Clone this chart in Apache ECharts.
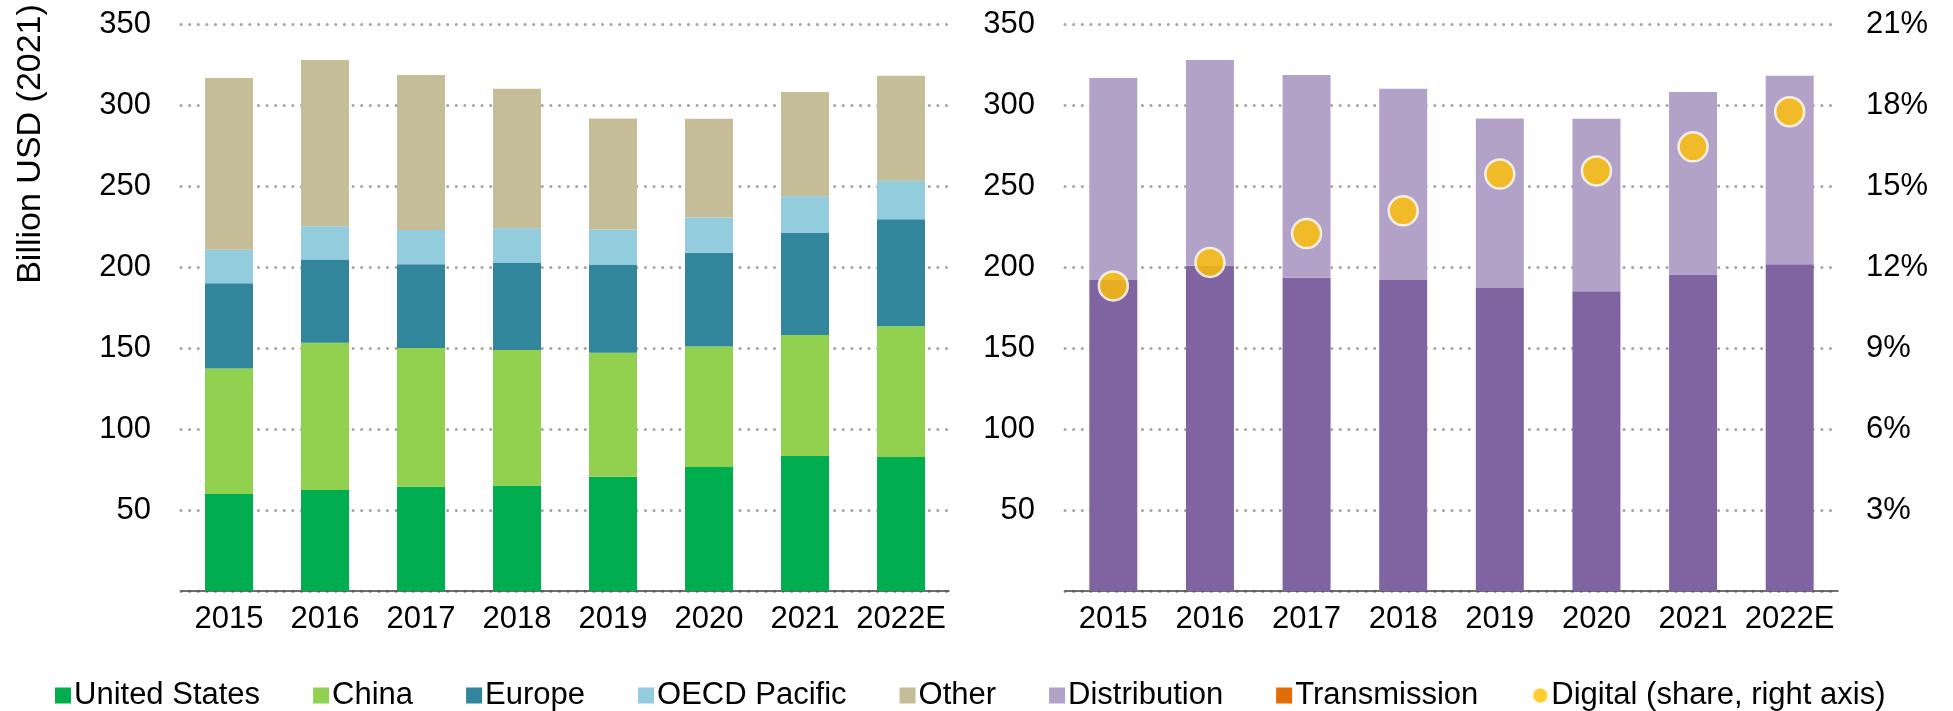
<!DOCTYPE html>
<html>
<head>
<meta charset="utf-8">
<script src="https://cdn.jsdelivr.net/npm/echarts@6/dist/echarts.min.js"></script>
<style>
  html, body { margin: 0; padding: 0; background: #fff; }
  #chart { width: 1953px; height: 711px; }
</style>
</head>
<body>
<div id="chart"></div>
<script>
const years = ["2015", "2016", "2017", "2018", "2019", "2020", "2021", "2022E"];
// left chart, billion USD (2021)
const unitedStates = [59.8, 62.4, 64.4, 65.1, 70.5, 76.6, 83.4, 82.7];
const china = [77.5, 90.8, 85.6, 83.7, 76.6, 74.4, 74.6, 80.7];
const europe = [52.7, 51.4, 51.7, 53.6, 54.4, 57.8, 63.0, 66.1];
const oecdPacific = [20.7, 20.5, 21.2, 21.5, 21.7, 21.7, 22.7, 23.7];
const other = [105.9, 102.7, 95.6, 86.1, 68.5, 61.0, 64.3, 64.8];
// right chart
const lowerPart = [192.0, 200.7, 193.4, 192.0, 187.0, 185.1, 195.4, 201.7];
const distribution = [124.6, 127.1, 125.1, 118.0, 104.7, 106.4, 112.6, 116.3];
const digitalShare = [0.113, 0.1217, 0.1324, 0.1408, 0.1544, 0.1556, 0.1645, 0.1775];
const leftTicks = [0, 350, 50];
const shareTicks = [0, 0.21, 0.03];

const font = "Liberation Sans, Arial, sans-serif";
const fs = 31;

let myChart = echarts.init(document.getElementById("chart"));

const gridLine = {
  show: true,
  lineStyle: { color: "#a6a6a6", width: 3, type: [0.1, 8.5], cap: "round" }
};

function catAxis(gridIndex) {
  return {
    type: "category",
    gridIndex: gridIndex,
    data: years,
    axisLine: { lineStyle: { color: "#404040", width: 1.5 } },
    axisTick: { show: false },
    axisLabel: { color: "#000", fontSize: fs, fontFamily: font, margin: 13, interval: 0 }
  };
}

function valAxis(gridIndex) {
  return {
    type: "value",
    gridIndex: gridIndex,
    min: leftTicks[0],
    max: leftTicks[1],
    interval: leftTicks[2],
    axisLine: { show: false },
    axisTick: { show: false },
    splitLine: gridLine,
    axisLabel: {
      color: "#000", fontSize: fs, fontFamily: font, margin: 30,
      formatter: v => (v === 0 ? "" : v)
    }
  };
}

function stackBar(name, data, color, stack, xi, yi) {
  return {
    name: name,
    type: "bar",
    stack: stack,
    xAxisIndex: xi,
    yAxisIndex: yi,
    barWidth: 48,
    data: data,
    itemStyle: { color: color },
    emphasis: { disabled: true }
  };
}

myChart.setOption({
  animation: false,
  textStyle: { fontFamily: font },
  grid: [
    { left: 181, width: 768, top: 24, height: 567 },
    { left: 1065, width: 773, top: 24, height: 567 }
  ],
  graphic: [
    {
      type: "text",
      x: 31,
      y: 144,
      rotation: Math.PI / 2,
      style: {
        text: "Billion USD (2021)",
        fontSize: 34,
        fontFamily: font,
        fill: "#000",
        align: "center",
        verticalAlign: "middle"
      }
    }
  ],
  legend: {
    top: 675,
    left: 50,
    itemWidth: 16,
    itemHeight: 16,
    itemGap: 53,
    textStyle: { fontSize: fs, fontFamily: font, color: "#000", padding: [0, 0, 0, -2] },
    data: [
      { name: "United States", icon: "rect" },
      { name: "China", icon: "rect" },
      { name: "Europe", icon: "rect" },
      { name: "OECD Pacific", icon: "rect" },
      { name: "Other", icon: "rect" },
      { name: "Distribution", icon: "rect" },
      { name: "Transmission", icon: "rect", itemStyle: { color: "#e36c09" } },
      { name: "Digital (share, right axis)", icon: "circle" }
    ]
  },
  xAxis: [catAxis(0), catAxis(1)],
  yAxis: [
    valAxis(0),
    valAxis(1),
    {
      type: "value",
      gridIndex: 1,
      position: "right",
      min: shareTicks[0],
      max: shareTicks[1],
      interval: shareTicks[2],
      axisLine: { show: false },
      axisTick: { show: false },
      splitLine: { show: false },
      axisLabel: {
        color: "#000", fontSize: fs, fontFamily: font, margin: 28,
        formatter: v => (v === 0 ? "" : Math.round(v * 100) + "%")
      }
    }
  ],
  series: [
    stackBar("United States", unitedStates, "#00ad4f", "regions", 0, 0),
    stackBar("China", china, "#92d050", "regions", 0, 0),
    stackBar("Europe", europe, "#31869b", "regions", 0, 0),
    stackBar("OECD Pacific", oecdPacific, "#93cddd", "regions", 0, 0),
    stackBar("Other", other, "#c4bd97", "regions", 0, 0),
    stackBar("Transmission", lowerPart, "#8064a2", "grids", 1, 1),
    stackBar("Distribution", distribution, "#b3a2c7", "grids", 1, 1),
    {
      name: "Digital (share, right axis)",
      type: "scatter",
      xAxisIndex: 1,
      yAxisIndex: 2,
      symbol: "circle",
      symbolSize: 29,
      data: digitalShare,
      itemStyle: { color: "#ffc000", borderColor: "#fff", borderWidth: 2.5 },
      z: 5
    }
  ]
});
</script>
</body>
</html>
